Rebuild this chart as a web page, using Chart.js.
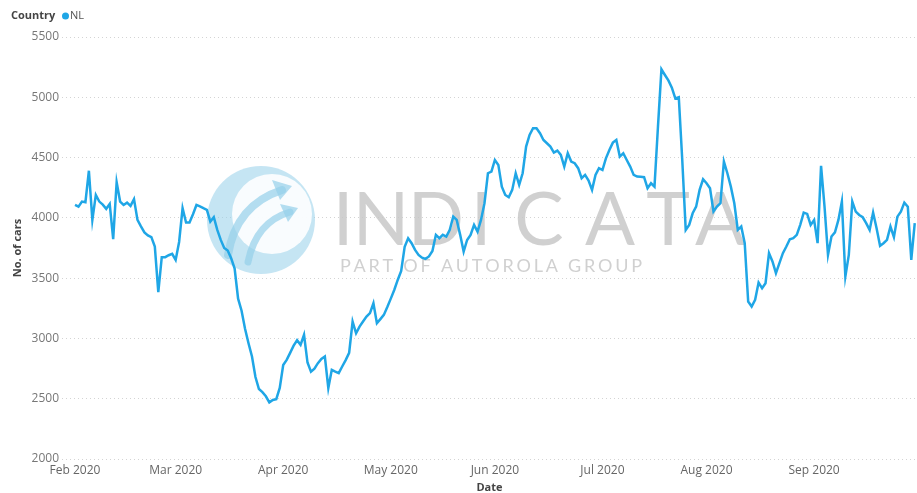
<!DOCTYPE html>
<html><head><meta charset="utf-8">
<script src="https://cdn.jsdelivr.net/npm/chart.js@4.4.0/dist/chart.umd.min.js"></script>
<style>html,body{margin:0;padding:0;background:#fff;overflow:hidden}#wrap{position:relative;width:917px;height:493px}</style>
</head><body><div id="wrap"><canvas id="c" width="917" height="493"></canvas></div>
<script>
// Daily values, 1 Feb 2020 (index 0) to 30 Sep 2020 (index 242)
const dayValues = [
4107,4093,4135,4130,4391,3983,4190,4135,4110,4075,
4116,3823,4295,4135,4107,4126,4099,4155,3983,3930,
3880,3855,3840,3762,3384,3674,3674,3690,3701,3651,
3800,4080,3961,3961,4030,4107,4095,4080,4066,3969,
4005,3900,3817,3750,3729,3665,3580,3330,3230,3080,
2960,2850,2680,2580,2555,2520,2470,2490,2496,2590,
2780,2822,2880,2940,2985,2947,3030,2800,2725,2750,
2795,2830,2850,2588,2740,2725,2712,2767,2820,2880,
3140,3043,3098,3140,3181,3210,3292,3126,3160,3195,
3260,3330,3402,3485,3560,3760,3831,3790,3734,3693,
3670,3660,3680,3725,3859,3831,3859,3845,3900,4010,
3983,3859,3720,3817,3859,3942,3886,3983,4121,4370,
4384,4480,4439,4259,4190,4171,4232,4370,4273,4370,
4591,4688,4743,4743,4702,4646,4619,4591,4541,4558,
4522,4425,4536,4467,4453,4412,4329,4356,4309,4232,
4356,4412,4397,4494,4563,4624,4646,4508,4536,4480,
4425,4356,4342,4340,4337,4246,4287,4259,4757,5232,
5185,5140,5080,4990,5000,4480,3900,3942,4038,4093,
4232,4320,4287,4246,4052,4093,4121,4467,4370,4259,
4121,3900,3928,3790,3306,3265,3320,3463,3417,3458,
3707,3638,3541,3624,3707,3762,3823,3831,3859,3942,
4044,4033,3942,3983,3790,4431,4093,3693,3845,3880,
3983,4135,3513,3693,4135,4052,4024,4005,3956,3900,
4044,3914,3768,3790,3817,3928,3840,4010,4052,4126,
4093,3651,3956
];
const monthTickDays = [0,29,60,91,121,152,182,213];
const monthTickLabels = ['Feb 2020','Mar 2020','Apr 2020','May 2020','Jun 2020','Jul 2020','Aug 2020','Sep 2020'];
const yTickValues = [2000,2500,3000,3500,4000,4500,5000,5500];
const seriesName = 'NL';
const legendTitle = 'Country';
const xTitle = 'Date';
const yTitle = 'No. of cars';

const lineColor = '#1fa6e6';
const points = dayValues.map((v,i)=>({x:i,y:v}));

const decor = {
  id:'decor',
  beforeDatasetsDraw(chart){
    const ctx = chart.ctx;
    ctx.save();
    // watermark logo
    ctx.fillStyle = 'rgba(150,208,234,0.55)';
    ctx.beginPath(); ctx.arc(261,220,54,0,Math.PI*2); ctx.fill();
    ctx.fillStyle = 'rgba(255,255,255,0.9)';
    ctx.beginPath(); ctx.arc(272,214,40,0,Math.PI*2); ctx.fill();
    ctx.strokeStyle = 'rgba(150,208,234,0.7)';
    ctx.lineCap = 'round';
    ctx.lineWidth = 8;
    ctx.beginPath(); ctx.moveTo(228,255); ctx.quadraticCurveTo(236,205,282,190); ctx.stroke();
    ctx.lineWidth = 7;
    ctx.beginPath(); ctx.moveTo(248,262); ctx.quadraticCurveTo(256,222,290,212); ctx.stroke();
    ctx.fillStyle = 'rgba(150,208,234,0.7)';
    ctx.beginPath(); ctx.moveTo(292,186); ctx.lineTo(272,180); ctx.lineTo(280,200); ctx.closePath(); ctx.fill();
    ctx.beginPath(); ctx.moveTo(298,208); ctx.lineTo(280,204); ctx.lineTo(288,222); ctx.closePath(); ctx.fill();
    // watermark text
    ctx.fillStyle = 'rgba(196,196,196,0.8)';
    ctx.font = '400 74px Lato, "Open Sans", sans-serif';
    ctx.textAlign = 'center'; ctx.textBaseline = 'alphabetic';
    const letters = 'INDICATA'.split('');
    const centers = [343,381,436,481,539,610,668,720];
    letters.forEach((ch,i)=>ctx.fillText(ch,centers[i],245));
    ctx.font = '18px Lato, "Open Sans", sans-serif';
    ctx.textAlign = 'left'; ctx.textBaseline = 'middle';
    const sub = 'PART OF AUTOROLA GROUP';
    const widths = sub.split('').map(c=>ctx.measureText(c).width);
    const total = widths.reduce((a,b)=>a+b,0);
    const gap = (302-total)/(sub.length-1);
    let x = 340;
    sub.split('').forEach((c,i)=>{ctx.fillText(c,x,266); x += widths[i]+gap;});
    ctx.restore();
  },
  afterDraw(chart){
    const ctx = chart.ctx;
    ctx.save();
    ctx.textBaseline = 'middle'; ctx.textAlign = 'left';
    ctx.font = 'bold 11px "Open Sans", sans-serif';
    ctx.fillStyle = '#444';
    ctx.fillText(legendTitle, 11, 16);
    ctx.fillStyle = lineColor;
    ctx.beginPath(); ctx.arc(65.5,16,3.5,0,Math.PI*2); ctx.fill();
    ctx.font = '11px "Open Sans", sans-serif';
    ctx.fillStyle = '#555';
    ctx.fillText(seriesName, 70, 16);
    ctx.restore();
  }
};

new Chart(document.getElementById('c'), {
  type:'line',
  data:{datasets:[{label:seriesName,data:points,borderColor:lineColor,borderWidth:2.5,pointRadius:0,tension:0,fill:false}]},
  options:{
    responsive:false, animation:false,
    layout:{padding:{top:37,right:0,bottom:0,left:0}},
    plugins:{legend:{display:false},tooltip:{enabled:false}},
    scales:{
      x:{type:'linear',min:-3.75,max:242.65,
        afterBuildTicks(s){ s.ticks = monthTickDays.map(v=>({value:v})); },
        afterFit(s){ s.height = 34; },
        ticks:{autoSkip:false,maxRotation:0,padding:4,color:'#666',font:{family:'"Open Sans", sans-serif',size:12},
          callback(v){ const i = monthTickDays.indexOf(v); return i>=0 ? monthTickLabels[i] : ''; }},
        grid:{display:false,drawTicks:false},
        border:{display:false},
        title:{display:true,text:xTitle,color:'#444',font:{family:'"Open Sans", sans-serif',size:11,weight:'bold',lineHeight:1},padding:{top:0,bottom:0}}
      },
      y:{min:2000,max:5500,
        afterBuildTicks(s){ s.ticks = yTickValues.map(v=>({value:v})); },
        afterFit(s){ s.width = 62; },
        ticks:{padding:3,color:'#777',font:{family:'"Open Sans", sans-serif',size:12},callback(v){ return String(v); }},
        grid:{color:'#d4d4d4',lineWidth:1,drawTicks:false},
        border:{display:false,dash:[1,3]},
        title:{display:true,text:yTitle,color:'#444',font:{family:'"Open Sans", sans-serif',size:11,weight:'bold',lineHeight:1.2},padding:{top:11,bottom:0}}
      }
    }
  },
  plugins:[decor]
});
</script></body></html>
